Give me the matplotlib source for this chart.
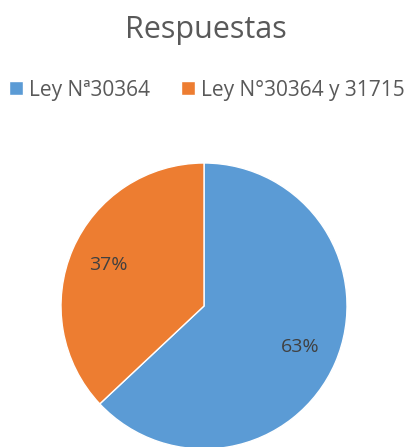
import matplotlib.pyplot as plt

# Datos del gráfico
categorias = ['Ley Nª30364', 'Ley N°30364 y 31715']
porcentajes = [63, 37]
colores = ['#5B9BD5', '#ED7D31']

plt.rcParams['font.family'] = ['Open Sans', 'DejaVu Sans']

fig = plt.figure(figsize=(4.12, 4.47), dpi=100)

# Eje del pastel, centrado en (204, 306) px con radio 143 px
ax = fig.add_axes([61 / 412, -2 / 447, 286 / 412, 286 / 447])
wedges, textos, autotextos = ax.pie(
    porcentajes, colors=colores, startangle=90, counterclock=False,
    autopct='%1.0f%%', pctdistance=0.73, radius=1,
    wedgeprops=dict(edgecolor='white', linewidth=1),
    textprops=dict(color='#404040', fontsize=14))
ax.set_xlim(-1, 1)
ax.set_ylim(-1, 1)
ax.set_aspect('equal')

# Título y leyenda
fig.text(0.5, 1 - 30 / 447, 'Respuestas', ha='center', va='center',
         fontsize=22, color='#595959')
fig.legend(wedges, categorias, loc='center', bbox_to_anchor=(0.503, 1 - 90 / 447),
           ncol=2, frameon=False, fontsize=15, labelcolor='#595959',
           handlelength=0.66, handleheight=0.66, handletextpad=0.3, columnspacing=1.5)

fig.savefig('out.png', dpi=100)
